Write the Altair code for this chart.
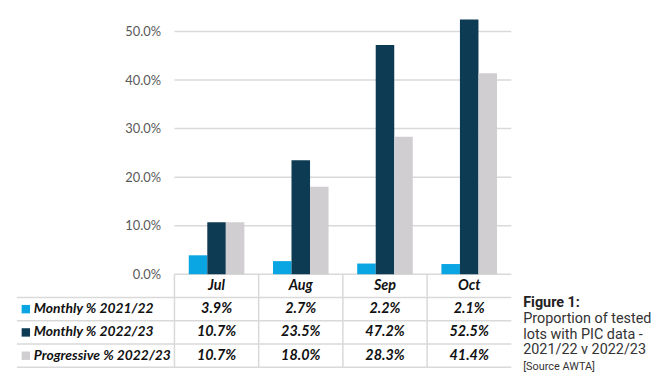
import altair as alt
import pandas as pd

months = ["Jul", "Aug", "Sep", "Oct"]
series = ["Monthly % 2021/22", "Monthly % 2022/23", "Progressive % 2022/23"]
monthly_2122 = [3.9, 2.7, 2.2, 2.1]
monthly_2223 = [10.7, 23.5, 47.2, 52.5]
progressive_2223 = [10.7, 18.0, 28.3, 41.4]
colors = ["#0aa5e3", "#0d3b54", "#d1ced1"]
y_ticks = [0, 0.1, 0.2, 0.3, 0.4, 0.5]
caption_title = "Figure 1:"
caption_body = ["Proportion of tested", "lots with PIC data -", "2021/22 v 2022/23"]
caption_source = "[Source AWTA]"

values = [monthly_2122, monthly_2223, progressive_2223]
rows = []
for s, vals in zip(series, values):
    for m, v in zip(months, vals):
        rows.append({"series": s, "month": m, "value": v / 100, "label": f"{v:.1f}%", "row": s})
df = pd.DataFrame(rows)

row_order = ["hdr"] + series
hdr = pd.DataFrame({"month": months, "label": months, "row": ["hdr"] * 4})
cells = pd.concat([hdr, df[["month", "label", "row"]]], ignore_index=True)
row_df = pd.DataFrame({"row": row_order})
label_df = pd.DataFrame({"row": series, "series": series})
month_df = pd.DataFrame({"month": months})
tick_df = pd.DataFrame({"v": y_ticks})

GRID = "#d9d9d9"
FONT = "Lato"
W, H_TOP, H_TAB = 340, 267, 94

color_enc = alt.Color("series:N", sort=series,
                      scale=alt.Scale(domain=series, range=colors), legend=None)

# ---- top: bars with gridlines ----
yscale = alt.Scale(domain=[0, 0.545], nice=False)
yaxis = alt.Axis(title=None, values=y_ticks, format=".1%", ticks=False,
                 domain=False, grid=False, labelFont=FONT, labelFontSize=13,
                 labelColor="#595959", labelPadding=14)
grid = alt.Chart(tick_df).mark_rule(color=GRID, strokeWidth=1.5).encode(
    y=alt.Y("v:Q", scale=yscale, axis=yaxis))
bars = alt.Chart(df).mark_bar().encode(
    x=alt.X("month:N", sort=months,
            scale=alt.Scale(paddingInner=0.34, paddingOuter=0.17), axis=None),
    xOffset=alt.XOffset("series:N", sort=series, scale=alt.Scale(paddingInner=0)),
    y=alt.Y("value:Q", scale=yscale, axis=yaxis),
    color=color_enc,
)
top = alt.layer(grid, bars).properties(width=W, height=H_TOP)

# ---- bottom: data table ----
xband = alt.Scale(type="band", domain=months, paddingInner=0, paddingOuter=0)
yband = alt.Scale(type="band", domain=row_order, paddingInner=0, paddingOuter=0)

hlines = alt.Chart(row_df).mark_rule(color=GRID, strokeWidth=1.5).encode(
    y=alt.Y("row:N", scale=yband, bandPosition=1, axis=None),
    x=alt.value(-159), x2=alt.value(W))
vlines = alt.Chart(month_df).mark_rule(color=GRID, strokeWidth=1.5).encode(
    x=alt.X("month:N", scale=xband, bandPosition=0, axis=None),
    y=alt.value(0), y2=alt.value(H_TAB))
cell_text = alt.Chart(cells).mark_text(
    font=FONT, fontSize=14.5, fontStyle="italic", fontWeight="bold", color="#111"
).encode(
    x=alt.X("month:N", scale=xband, axis=None),
    y=alt.Y("row:N", scale=yband, axis=None),
    text="label:N")
row_labels = alt.Chart(label_df).mark_text(
    font=FONT, fontSize=14, fontStyle="italic", fontWeight="bold", color="#111",
    align="left"
).encode(y=alt.Y("row:N", scale=yband, axis=None), x=alt.value(-142), text="row:N")
squares = alt.Chart(label_df).mark_square(size=72, opacity=1).encode(
    y=alt.Y("row:N", scale=yband, axis=None), x=alt.value(-150), color=color_enc)

cap1 = alt.Chart(pd.DataFrame({"t": [caption_title]})).mark_text(
    font="Roboto", fontSize=14.5, fontWeight="bold", align="left", color="#222"
).encode(text="t:N", x=alt.value(352), y=alt.value(29))
cap2 = alt.Chart(pd.DataFrame({"t": ["\n".join(caption_body)]})).mark_text(
    font="Roboto", fontSize=14.5, align="left", baseline="top", lineBreak="\n",
    lineHeight=16, color="#333"
).encode(text="t:N", x=alt.value(352), y=alt.value(38))
cap3 = alt.Chart(pd.DataFrame({"t": [caption_source]})).mark_text(
    font="Roboto", fontSize=11, align="left", color="#333"
).encode(text="t:N", x=alt.value(352), y=alt.value(94))

table = alt.layer(hlines, vlines, cell_text, row_labels, squares, cap1, cap2, cap3
                  ).properties(width=W, height=H_TAB)

chart = alt.vconcat(top, table, spacing=0, bounds="flush").resolve_scale(
    x="independent", y="independent"
).properties(
    padding={"left": 8, "top": 0, "right": 0, "bottom": 0}
).configure_view(stroke=None)

chart.save("out.html", embed_options={"renderer": "svg", "actions": False})
